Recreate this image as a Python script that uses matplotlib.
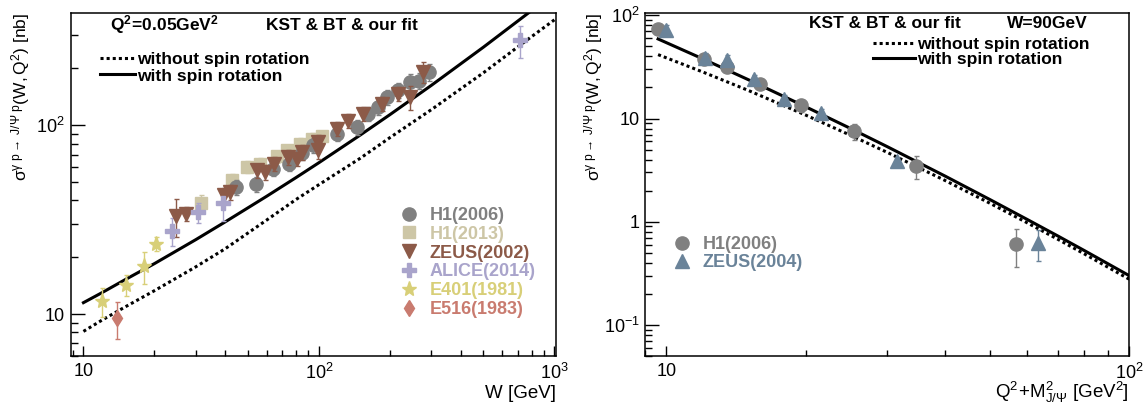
import numpy as np
import matplotlib
matplotlib.use('Agg')
import matplotlib.pyplot as plt
from matplotlib.ticker import LogLocator, FuncFormatter, NullFormatter
from matplotlib.lines import Line2D

plt.rcParams['font.family'] = ['Liberation Sans', 'DejaVu Sans']
plt.rcParams['mathtext.fontset'] = 'custom'
plt.rcParams['mathtext.rm'] = 'Liberation Sans'
plt.rcParams['mathtext.it'] = 'Liberation Sans:italic'
plt.rcParams['mathtext.bf'] = 'Liberation Sans:bold'
plt.rcParams['mathtext.sf'] = 'Liberation Sans'
plt.rcParams['mathtext.fallback'] = 'stixsans'

# ---------------- left panel data (W dependence, Q^2 = 0.05 GeV^2) -------------
curve_W = [10, 12, 15, 20, 30, 40, 60, 80, 100, 150, 200, 300, 500, 800, 1000]
curve_with_spin = [11.5, 13.0, 15.2, 18.5, 24.8, 30.8, 42.1, 52.9, 63.4, 88.9,
                   113.8, 162.7, 259.6, 405.4, 503.5]
curve_without_spin = [8.1, 9.3, 10.9, 13.3, 17.8, 22.2, 31.5, 40.5, 48.5, 67.0,
                      86.0, 121.0, 190.0, 295.0, 362.0]

h1_2006_W = [44.5, 54.1, 64.0, 74.8, 84.7, 94.6, 119, 145, 162, 179, 194, 217, 244, 267, 294]
h1_2006_sig = [47.1, 48.6, 58.9, 62.7, 71.3, 78.3, 90.4, 98, 115, 125, 141, 153, 170, 172, 192]
h1_2006_err = [4.5, 4.5, 5, 5.5, 6, 7, 8, 9, 10, 11, 13, 14, 16, 17, 20]

h1_2013_W = [31.5, 42.6, 49.4, 56.2, 66.2, 73.0, 83.2, 93.2, 102.8]
h1_2013_sig = [38.7, 51.1, 60.1, 62.7, 68.5, 73.7, 80.0, 85.0, 87.5]
h1_2013_err = [4, 4, 4.5, 4.5, 5, 5, 5.5, 6, 6]

zeus_2002_W = [24.8, 27.3, 39.5, 41.8, 54.5, 59.0, 64.5, 74.1, 80.5, 84.6, 99.4, 99.4,
               119, 133, 154, 185, 217, 244, 277]
zeus_2002_sig = [33.2, 34.0, 42.5, 44.3, 57.7, 56.6, 62.7, 67.9, 66.6, 72.2, 81.5, 73.7,
                 96.1, 106, 115, 130, 147, 141, 192]
zeus_2002_err = [7.5, 3, 4, 4, 5, 5, 5.5, 6, 6, 6.5, 7, 7, 8, 9, 10, 11, 13, 20, 25]

alice_2014_W = [23.8, 30.6, 39.3, 712]
alice_2014_sig = [27.6, 34.7, 38.7, 282]
alice_2014_err = [4.7, 4.2, 7.5, 55]

e401_1981_W = [11.96, 15.1, 18.0, 20.3]
e401_1981_sig = [11.7, 14.3, 17.9, 23.5]
e401_1981_err = [2.1, 1.9, 3.5, 2.0]

e516_1983_W = [13.9]
e516_1983_sig = [9.5]
e516_1983_err = [2.1]

# ---------------- right panel data (Q^2+M^2 dependence, W = 90 GeV) -------------
curve_Q = [9.6, 12, 15, 20, 25, 30, 40, 50, 60, 70, 80, 100]
curveQ_with_spin = [59.0, 37.8, 23.9, 13.0, 8.01, 5.34, 2.77, 1.64, 1.06, 0.730, 0.525, 0.300]
curveQ_without_spin = [41.6, 28.2, 18.8, 10.8, 6.88, 4.70, 2.51, 1.51, 0.983, 0.678, 0.487, 0.277]

h1_2006Q_x = [9.61, 12.08, 13.5, 15.9, 19.5, 25.4, 34.6, 56.9]
h1_2006Q_sig = [73.8, 37.9, 31.6, 21.8, 13.4, 7.54, 3.45, 0.603]
h1_2006Q_err = [5, 4, 3.5, 2.5, 1.8, 1.3, 0.85, 0.24]

zeus_2004_x = [10.0, 12.1, 13.5, 15.5, 18.0, 21.6, 31.5, 63.4]
zeus_2004_sig = [71.6, 38.7, 37.2, 23.9, 15.3, 11.4, 3.86, 0.627]
zeus_2004_err = [9, 4, 4, 2.5, 1.5, 1.1, 0.4, 0.21]

# ---------------- style ----------------
C_H1_06 = '#808080'
C_H1_13 = '#cdc6a6'
C_ZEUS02 = '#8c5a48'
C_ALICE = '#a9a4cb'
C_E401 = '#d8cf78'
C_E516 = '#c97b6f'
C_ZEUS04 = '#6a8399'

W_PX, H_PX = 1146, 408
fig = plt.figure(figsize=(W_PX / 100, H_PX / 100), dpi=100)


def px_box(x0, x1, ytop, ybot):
    return [x0 / W_PX, 1 - ybot / H_PX, (x1 - x0) / W_PX, (ybot - ytop) / H_PX]


ax1 = fig.add_axes(px_box(70.6, 555.6, 12.7, 356))
ax2 = fig.add_axes(px_box(645.1, 1129.3, 12.7, 356))


def fmt_pow(v, pos=None):
    if v <= 0:
        return ''
    e = int(round(np.log10(v)))
    if abs(v - 10 ** e) > 1e-9 * v:
        return ''
    if e == 0:
        return '1'
    if e == 1:
        return '10'
    return r'$10^{%d}$' % e


for ax in (ax1, ax2):
    ax.set_xscale('log')
    ax.set_yscale('log')
    for s in ax.spines.values():
        s.set_linewidth(1.1)
    ax.xaxis.set_major_locator(LogLocator(base=10))
    ax.yaxis.set_major_locator(LogLocator(base=10))
    ax.xaxis.set_minor_locator(LogLocator(base=10, subs=np.arange(2, 10), numticks=20))
    ax.yaxis.set_minor_locator(LogLocator(base=10, subs=np.arange(2, 10), numticks=20))
    ax.xaxis.set_major_formatter(FuncFormatter(fmt_pow))
    ax.yaxis.set_major_formatter(FuncFormatter(fmt_pow))
    ax.xaxis.set_minor_formatter(NullFormatter())
    ax.yaxis.set_minor_formatter(NullFormatter())
    ax.tick_params(which='both', direction='in', top=False, right=False, labelsize=13, width=1.0)
    ax.tick_params(axis='y', which='major', length=10, pad=4)
    ax.tick_params(axis='y', which='minor', length=5)
    ax.tick_params(axis='x', which='major', length=7.5, pad=5)
    ax.tick_params(axis='x', which='minor', length=4)

lw = 2.2
dot = (0, (1, 1))
ebkw = dict(elinewidth=1.0, capsize=1.8, capthick=1.0, linestyle='none')
FS_TXT = 12.5
FS_LEG = 13
boldT = dict(size=FS_TXT, weight='bold')
boldL = dict(size=FS_LEG, weight='bold')

# ---------- left panel ----------
ax1.plot(curve_W, curve_without_spin, color='k', lw=lw, ls=dot, zorder=2)
ax1.plot(curve_W, curve_with_spin, color='k', lw=lw, zorder=2)
ax1.errorbar(h1_2013_W, h1_2013_sig, yerr=h1_2013_err, marker='s', ms=9, color=C_H1_13, zorder=3, **ebkw)
ax1.errorbar(h1_2006_W, h1_2006_sig, yerr=h1_2006_err, marker='o', ms=9.5, color=C_H1_06, zorder=4, **ebkw)
ax1.errorbar(zeus_2002_W, zeus_2002_sig, yerr=zeus_2002_err, marker='v', ms=9.5, color=C_ZEUS02, zorder=5, **ebkw)
ax1.errorbar(alice_2014_W, alice_2014_sig, yerr=alice_2014_err, marker='P', ms=10, color=C_ALICE, zorder=5, **ebkw)
ax1.errorbar(e401_1981_W, e401_1981_sig, yerr=e401_1981_err, marker='*', ms=11, color=C_E401, zorder=5, **ebkw)
ax1.errorbar(e516_1983_W, e516_1983_sig, yerr=e516_1983_err, marker='d', ms=8, color=C_E516, zorder=5, **ebkw)
ax1.set_xlim(8.82, 1012)
ax1.set_ylim(6.0, 395)

curve_handles = [Line2D([], [], color='k', lw=lw, ls=dot), Line2D([], [], color='k', lw=lw)]
curve_labels = ['without spin rotation', 'with spin rotation']
leg = ax1.legend(curve_handles, curve_labels, loc='upper left', bbox_to_anchor=(0.0596, 0.8864),
                 frameon=False, prop=boldT, handlelength=2.04, handletextpad=0.115,
                 borderpad=0, borderaxespad=0, labelspacing=0.09)
ax1.add_artist(leg)

data_handles = [Line2D([], [], ls='none', marker='o', ms=9.5, color=C_H1_06),
                Line2D([], [], ls='none', marker='s', ms=9, color=C_H1_13),
                Line2D([], [], ls='none', marker='v', ms=9.5, color=C_ZEUS02),
                Line2D([], [], ls='none', marker='P', ms=10, color=C_ALICE),
                Line2D([], [], ls='none', marker='*', ms=11, color=C_E401),
                Line2D([], [], ls='none', marker='d', ms=8, color=C_E516)]
data_labels = ['H1(2006)', 'H1(2013)', 'ZEUS(2002)', 'ALICE(2014)', 'E401(1981)', 'E516(1983)']
ax1.legend(data_handles, data_labels, loc='upper left', bbox_to_anchor=(0.679, 0.4343),
           frameon=False, prop=boldL, handlelength=1.0, handletextpad=0.66,
           borderpad=0, borderaxespad=0, labelspacing=0.1,
           labelcolor=[C_H1_06, C_H1_13, C_ZEUS02, C_ALICE, C_E401, C_E516])

fig.text(110 / W_PX, 1 - 25 / H_PX, r'$\mathbf{Q^{2}\!=\!0.05GeV^{2}}$', size=FS_TXT, va='center', ha='left')
fig.text(266 / W_PX, 1 - 25 / H_PX, 'KST & BT & our fit', va='center', ha='left', **boldT)
fig.text(555.6 / W_PX, 1 - 393 / H_PX, 'W [GeV]', size=13.5, ha='right', va='center')
fig.text(21 / W_PX, 1 - 13 / H_PX,
         r'$\mathrm{\sigma^{\gamma\ p\rightarrow\ J/\Psi\ p}(W,Q^{2})\ [nb]}$',
         size=12.5, rotation=90, ha='center', va='top')

# ---------- right panel ----------
ax2.plot(curve_Q, curveQ_without_spin, color='k', lw=lw, ls=dot, zorder=2)
ax2.plot(curve_Q, curveQ_with_spin, color='k', lw=lw, zorder=2)
ax2.errorbar(h1_2006Q_x, h1_2006Q_sig, yerr=h1_2006Q_err, marker='o', ms=9.5, color=C_H1_06, zorder=4, **ebkw)
ax2.errorbar(zeus_2004_x, zeus_2004_sig, yerr=zeus_2004_err, marker='^', ms=9.5, color=C_ZEUS04, zorder=5, **ebkw)
ax2.set_xlim(9.0, 100)
ax2.set_ylim(0.05, 106)

leg2 = ax2.legend(curve_handles, curve_labels, loc='upper left', bbox_to_anchor=(0.4707, 0.929),
                  frameon=False, prop=boldT, handlelength=2.42, handletextpad=0.115,
                  borderpad=0, borderaxespad=0, labelspacing=0.0)
ax2.add_artist(leg2)
data_handles2 = [Line2D([], [], ls='none', marker='o', ms=9.5, color=C_H1_06),
                 Line2D([], [], ls='none', marker='^', ms=9.5, color=C_ZEUS04)]
ax2.legend(data_handles2, ['H1(2006)', 'ZEUS(2004)'], loc='upper left', bbox_to_anchor=(0.0576, 0.3487),
           frameon=False, prop=boldL, handlelength=1.0, handletextpad=0.66,
           borderpad=0, borderaxespad=0, labelspacing=0.05,
           labelcolor=[C_H1_06, C_ZEUS04])

fig.text(809 / W_PX, 1 - 23 / H_PX, 'KST & BT & our fit', va='center', ha='left', **boldT)
fig.text(1007 / W_PX, 1 - 23 / H_PX, 'W=90GeV', va='center', ha='left', **boldT)
fig.text(1129.3 / W_PX, 1 - 392 / H_PX, r'$\mathrm{Q^{2}\!+\!M^{2}_{J/\Psi}\ [GeV^{2}]}$',
         size=13.5, ha='right', va='center')
fig.text((573 + 21) / W_PX, 1 - 13 / H_PX,
         r'$\mathrm{\sigma^{\gamma\ p\rightarrow\ J/\Psi\ p}(W,Q^{2})\ [nb]}$',
         size=12.5, rotation=90, ha='center', va='top')

fig.savefig('out.png', dpi=100)
